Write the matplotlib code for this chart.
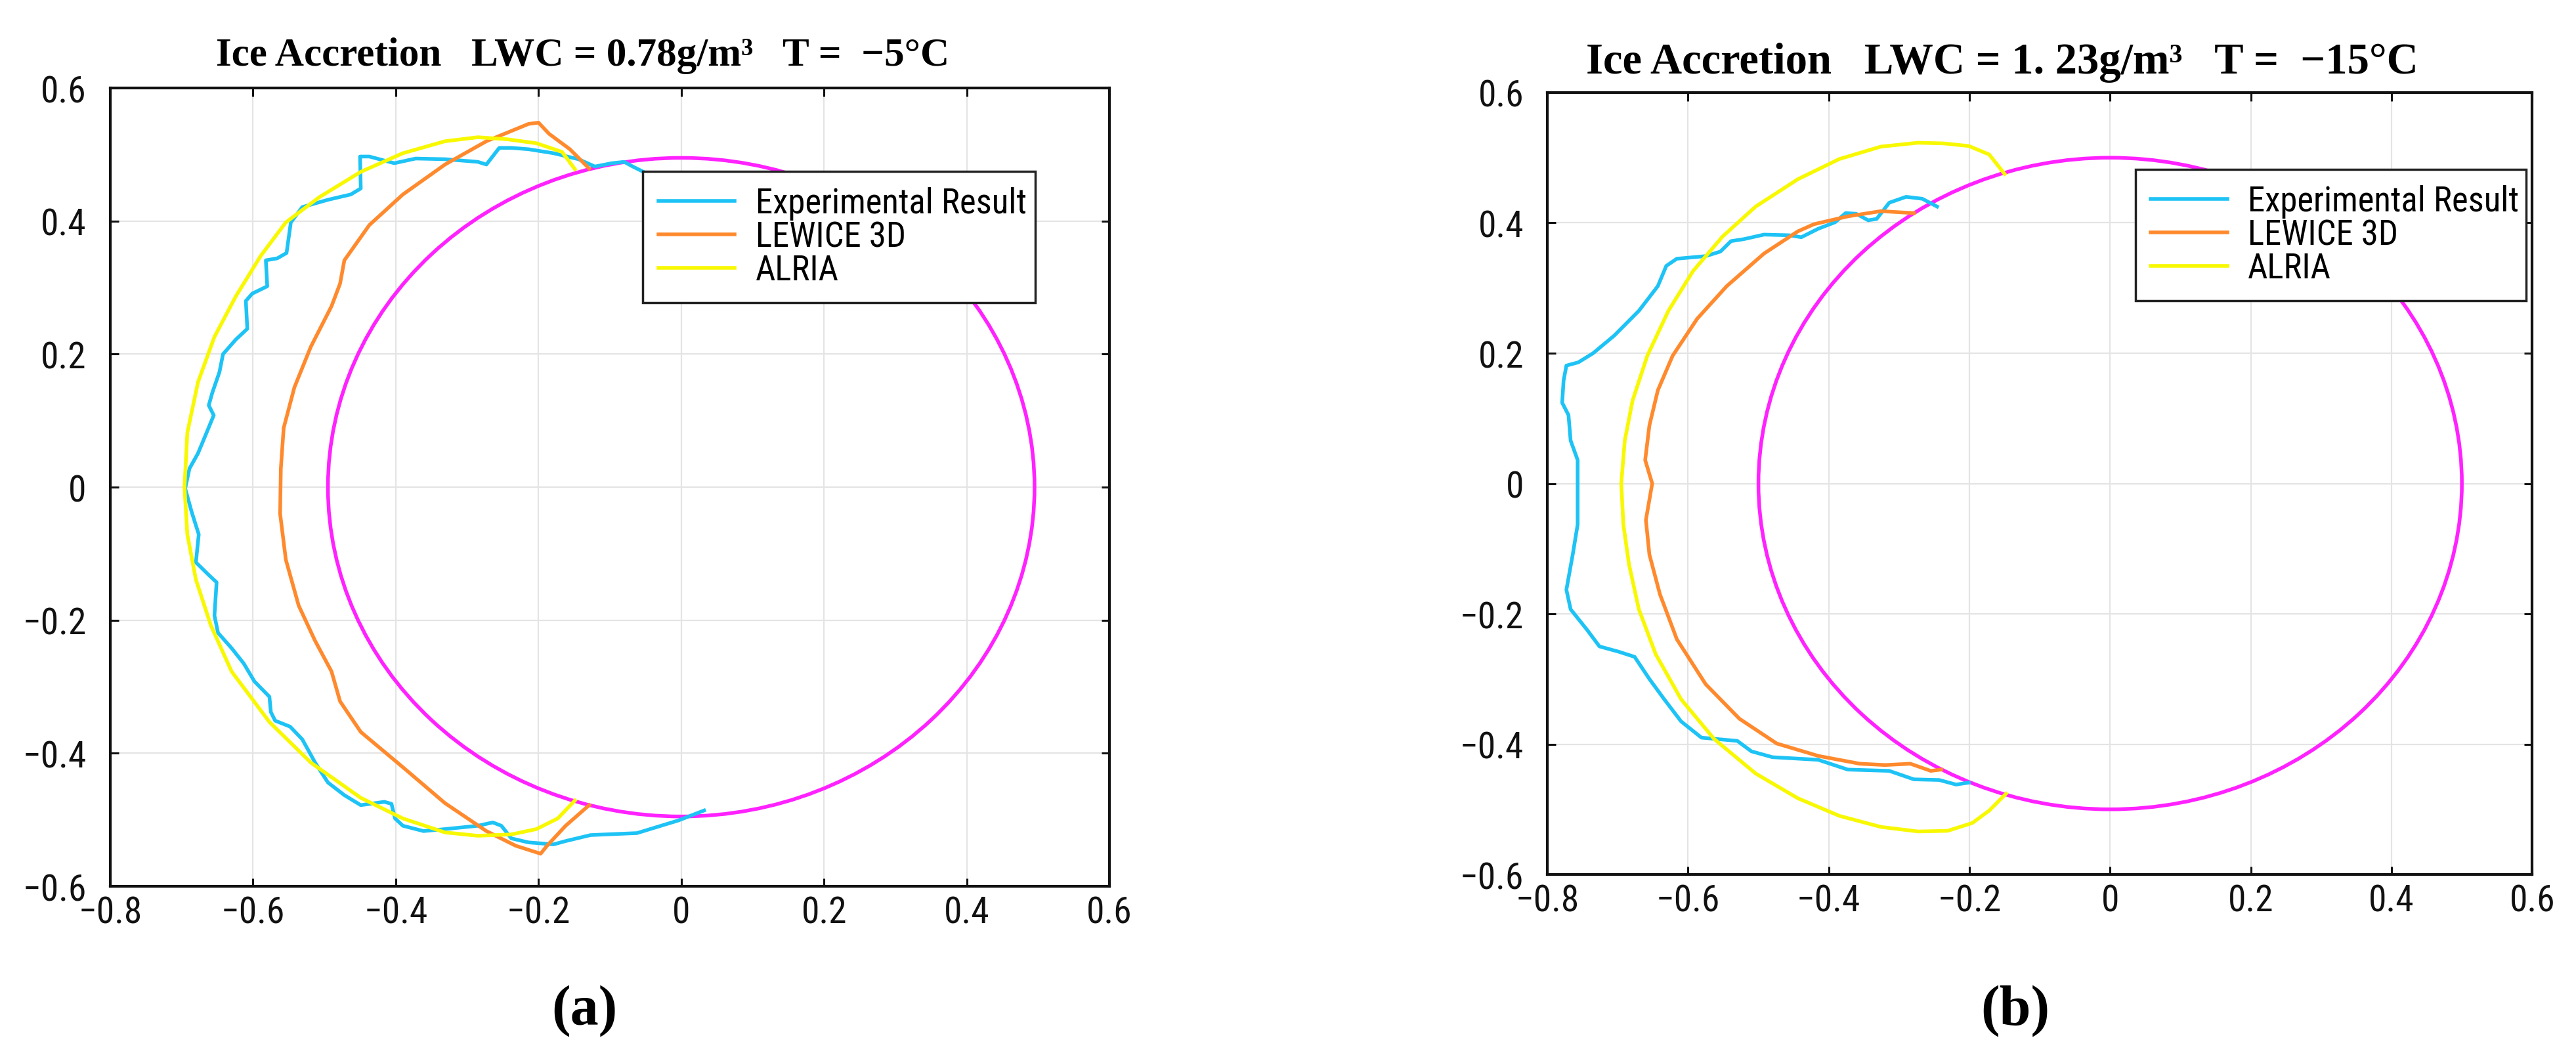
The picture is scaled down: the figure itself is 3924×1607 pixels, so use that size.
import matplotlib
matplotlib.use("Agg")
import matplotlib.pyplot as plt
from matplotlib import font_manager
from matplotlib.patches import Circle

# ---------------- data ----------------
x_ticks = [-0.8, -0.6, -0.4, -0.2, 0.0, 0.2, 0.4, 0.6]
x_tick_labels = ["\u22120.8", "\u22120.6", "\u22120.4", "\u22120.2", "0", "0.2", "0.4", "0.6"]
y_ticks = [-0.6, -0.4, -0.2, 0.0, 0.2, 0.4, 0.6]
y_tick_labels = ["\u22120.6", "\u22120.4", "\u22120.2", "0", "0.2", "0.4", "0.6"]

series_names = ["Experimental Result", "LEWICE 3D", "ALRIA"]
panel_labels = ["(a)", "(b)"]
titles = ["Ice Accretion   LWC = 0.78g/m\u00b3   T =  \u22125\u00b0C",
          "Ice Accretion   LWC = 1. 23g/m\u00b3   T =  \u221215\u00b0C"]

# cylinder (magenta) : center x, center y, radius
cyl_a = [0.0, 0.0, 0.495]
cyl_b = [0.0, 0.0, 0.50]

# ---- panel (a) ----
a_exp_x = [0.032, -0.004, -0.062, -0.127, -0.162, -0.179, -0.214, -0.238, -0.252, -0.264,
           -0.285, -0.331, -0.361, -0.390, -0.401, -0.406, -0.416, -0.449, -0.472, -0.495,
           -0.513, -0.531, -0.548, -0.569, -0.575, -0.577, -0.598, -0.613, -0.630, -0.649,
           -0.654, -0.651, -0.662, -0.680, -0.676, -0.686, -0.695, -0.689, -0.677, -0.665,
           -0.655, -0.662, -0.657, -0.647, -0.642, -0.624, -0.608, -0.610, -0.601, -0.580,
           -0.582, -0.566, -0.553, -0.547, -0.531, -0.495, -0.463, -0.449, -0.450, -0.437,
           -0.402, -0.372, -0.331, -0.285, -0.273, -0.255, -0.238, -0.214, -0.179, -0.144,
           -0.121, -0.097, -0.080, -0.068, -0.053]
a_exp_y = [-0.486, -0.501, -0.520, -0.523, -0.532, -0.537, -0.534, -0.528, -0.509, -0.504,
           -0.509, -0.514, -0.517, -0.509, -0.498, -0.476, -0.473, -0.478, -0.463, -0.444,
           -0.414, -0.379, -0.360, -0.351, -0.338, -0.315, -0.292, -0.265, -0.242, -0.219,
           -0.193, -0.143, -0.132, -0.113, -0.071, -0.037, -0.002, 0.028, 0.051, 0.082,
           0.108, 0.123, 0.142, 0.173, 0.200, 0.222, 0.238, 0.280, 0.291, 0.302,
           0.341, 0.344, 0.352, 0.398, 0.421, 0.432, 0.440, 0.449, 0.497, 0.497,
           0.487, 0.494, 0.493, 0.489, 0.485, 0.510, 0.510, 0.508, 0.502, 0.493,
           0.482, 0.487, 0.489, 0.482, 0.474]

a_lew_x = [-0.129, -0.156, -0.185, -0.200, -0.214, -0.273, -0.331, -0.390, -0.437, -0.472,
           -0.478, -0.490, -0.519, -0.542, -0.557, -0.561, -0.562, -0.554, -0.536, -0.513,
           -0.490, -0.478, -0.449, -0.390, -0.331, -0.273, -0.232, -0.197, -0.188, -0.162,
           -0.129]
a_lew_y = [0.479, 0.508, 0.531, 0.548, 0.546, 0.520, 0.485, 0.440, 0.394, 0.341,
           0.306, 0.272, 0.211, 0.150, 0.089, 0.028, -0.040, -0.109, -0.178, -0.231,
           -0.277, -0.322, -0.368, -0.421, -0.475, -0.517, -0.539, -0.551, -0.539, -0.509,
           -0.478]

a_alr_x = [-0.149, -0.167, -0.203, -0.244, -0.285, -0.331, -0.390, -0.449, -0.507, -0.554,
           -0.589, -0.624, -0.654, -0.677, -0.692, -0.696, -0.692, -0.680, -0.659, -0.630,
           -0.577, -0.519, -0.449, -0.390, -0.331, -0.285, -0.238, -0.203, -0.173, -0.149]
a_alr_y = [0.478, 0.504, 0.517, 0.523, 0.526, 0.520, 0.502, 0.474, 0.436, 0.398,
           0.348, 0.287, 0.226, 0.158, 0.082, 0.000, -0.071, -0.139, -0.208, -0.277,
           -0.353, -0.414, -0.467, -0.498, -0.519, -0.524, -0.522, -0.514, -0.498, -0.471]

# ---- panel (b) ----
b_exp_x = [-0.246, -0.267, -0.290, -0.314, -0.332, -0.344, -0.361, -0.376, -0.391, -0.415,
           -0.439, -0.456, -0.492, -0.521, -0.539, -0.554, -0.575, -0.616, -0.631, -0.643,
           -0.670, -0.705, -0.735, -0.756, -0.773, -0.777, -0.779, -0.770, -0.767, -0.757,
           -0.757, -0.757, -0.764, -0.773, -0.767, -0.744, -0.726, -0.699, -0.676, -0.655,
           -0.634, -0.610, -0.581, -0.530, -0.510, -0.480, -0.415, -0.373, -0.314, -0.279,
           -0.243, -0.219, -0.201]
b_exp_y = [0.425, 0.437, 0.440, 0.431, 0.406, 0.404, 0.414, 0.415, 0.401, 0.391,
           0.378, 0.381, 0.382, 0.375, 0.372, 0.356, 0.349, 0.345, 0.334, 0.303,
           0.265, 0.227, 0.200, 0.186, 0.181, 0.158, 0.124, 0.105, 0.066, 0.036,
           -0.018, -0.063, -0.109, -0.163, -0.193, -0.224, -0.250, -0.258, -0.266, -0.300,
           -0.331, -0.365, -0.390, -0.395, -0.411, -0.420, -0.424, -0.439, -0.441, -0.454,
           -0.455, -0.462, -0.459]

b_lew_x = [-0.279, -0.326, -0.373, -0.421, -0.444, -0.492, -0.545, -0.587, -0.622, -0.643,
           -0.655, -0.661, -0.651, -0.660, -0.655, -0.640, -0.616, -0.575, -0.527, -0.474,
           -0.415, -0.356, -0.320, -0.284, -0.255, -0.240]
b_lew_y = [0.415, 0.418, 0.410, 0.398, 0.387, 0.353, 0.303, 0.253, 0.196, 0.143,
           0.089, 0.036, 0.000, -0.056, -0.109, -0.170, -0.239, -0.308, -0.361, -0.399,
           -0.418, -0.430, -0.432, -0.430, -0.441, -0.439]

b_alr_x = [-0.150, -0.172, -0.201, -0.237, -0.273, -0.326, -0.385, -0.444, -0.504, -0.551,
           -0.593, -0.628, -0.658, -0.679, -0.690, -0.695, -0.692, -0.684, -0.670, -0.646,
           -0.610, -0.563, -0.504, -0.444, -0.385, -0.326, -0.273, -0.231, -0.196, -0.172,
           -0.148]
b_alr_y = [0.475, 0.505, 0.518, 0.522, 0.523, 0.517, 0.498, 0.467, 0.425, 0.379,
           0.326, 0.265, 0.196, 0.127, 0.066, 0.000, -0.063, -0.124, -0.193, -0.262,
           -0.331, -0.392, -0.445, -0.483, -0.510, -0.527, -0.534, -0.533, -0.521, -0.502,
           -0.476]

# ---------------- style ----------------
available = {f.name for f in font_manager.fontManager.ttflist}


def pick(cands):
    for c in cands:
        if c in available:
            return c
    return "DejaVu Sans"


SANS = pick(["Liberation Sans Narrow", "Roboto Condensed", "Open Sans Condensed", "Liberation Sans"])
SERIF = pick(["Liberation Serif", "DejaVu Serif"])
plt.rcParams["font.family"] = [SANS, "DejaVu Sans"]

C_EXP = "#1EC3F5"
C_LEW = "#FF8A2E"
C_ALR = "#F8F800"
C_CYL = "#FF22FF"
LW = 4.0

fig = plt.figure(figsize=(39.24, 16.08), dpi=100)
fig.patch.set_facecolor("white")

ax_a = fig.add_axes([0.0428, 0.1598, 0.3879, 0.7562])
ax_b = fig.add_axes([0.6007, 0.1710, 0.3823, 0.7407])

panels = [
    (ax_a, a_exp_x, a_exp_y, a_lew_x, a_lew_y, a_alr_x, a_alr_y, cyl_a,
     (0.533, 0.7375, 0.393, 0.1585)),
    (ax_b, b_exp_x, b_exp_y, b_lew_x, b_lew_y, b_alr_x, b_alr_y, cyl_b,
     (0.597, 0.741, 0.397, 0.161)),
]

for ax, ex, ey, lx, ly, rx, ry, cyl, lbox in panels:
    ax.plot(ex, ey, color=C_EXP, lw=LW, label=series_names[0], zorder=3, solid_joinstyle="round")
    ax.plot(lx, ly, color=C_LEW, lw=LW, label=series_names[1], zorder=3, solid_joinstyle="round")
    ax.plot(rx, ry, color=C_ALR, lw=LW, label=series_names[2], zorder=3, solid_joinstyle="round")
    ax.add_patch(Circle((cyl[0], cyl[1]), cyl[2], fill=False, edgecolor=C_CYL, lw=LW, zorder=2.5))

    ax.set_xlim(-0.8, 0.6)
    ax.set_ylim(-0.6, 0.6)
    ax.set_xticks(x_ticks)
    ax.set_xticklabels(x_tick_labels)
    ax.set_yticks(y_ticks)
    ax.set_yticklabels(y_tick_labels)
    ax.grid(True, color="#E4E4E4", lw=1.6, zorder=0)
    ax.set_axisbelow(True)
    for s in ax.spines.values():
        s.set_linewidth(3.0)
        s.set_color("#111111")
    ax.tick_params(axis="both", which="major", direction="in", length=9, width=2.2,
                   top=True, right=True, labelsize=40, colors="#111111")
    ax.tick_params(axis="x", pad=10)
    ax.tick_params(axis="y", pad=26)

    leg = ax.legend(loc="upper left", bbox_to_anchor=lbox, mode="expand",
                    fontsize=38, frameon=True, fancybox=False, framealpha=1.0,
                    edgecolor="#222222", borderpad=0.45, handlelength=2.2,
                    handletextpad=0.6, labelspacing=0.0, borderaxespad=0.0)
    leg.get_frame().set_linewidth(2.5)
    leg.set_zorder(10)

fig.text(0.2263, 1 - 100 / 1608, titles[0], ha="center", va="baseline",
         fontsize=44, fontweight="bold", family=[SERIF, "DejaVu Serif"])
fig.text(0.7773, 1 - 112 / 1608, titles[1], ha="center", va="baseline",
         fontsize=48, fontweight="bold", family=[SERIF, "DejaVu Serif"])

fig.text(890 / 3924, 1 - 1540 / 1608, panel_labels[0], ha="center", va="center",
         fontsize=62, fontweight="bold", family=[SERIF, "DejaVu Serif"])
fig.text(3070 / 3924, 1 - 1540 / 1608, panel_labels[1], ha="center", va="center",
         fontsize=62, fontweight="bold", family=[SERIF, "DejaVu Serif"])

fig.savefig("out.png", dpi=100, facecolor="white")
